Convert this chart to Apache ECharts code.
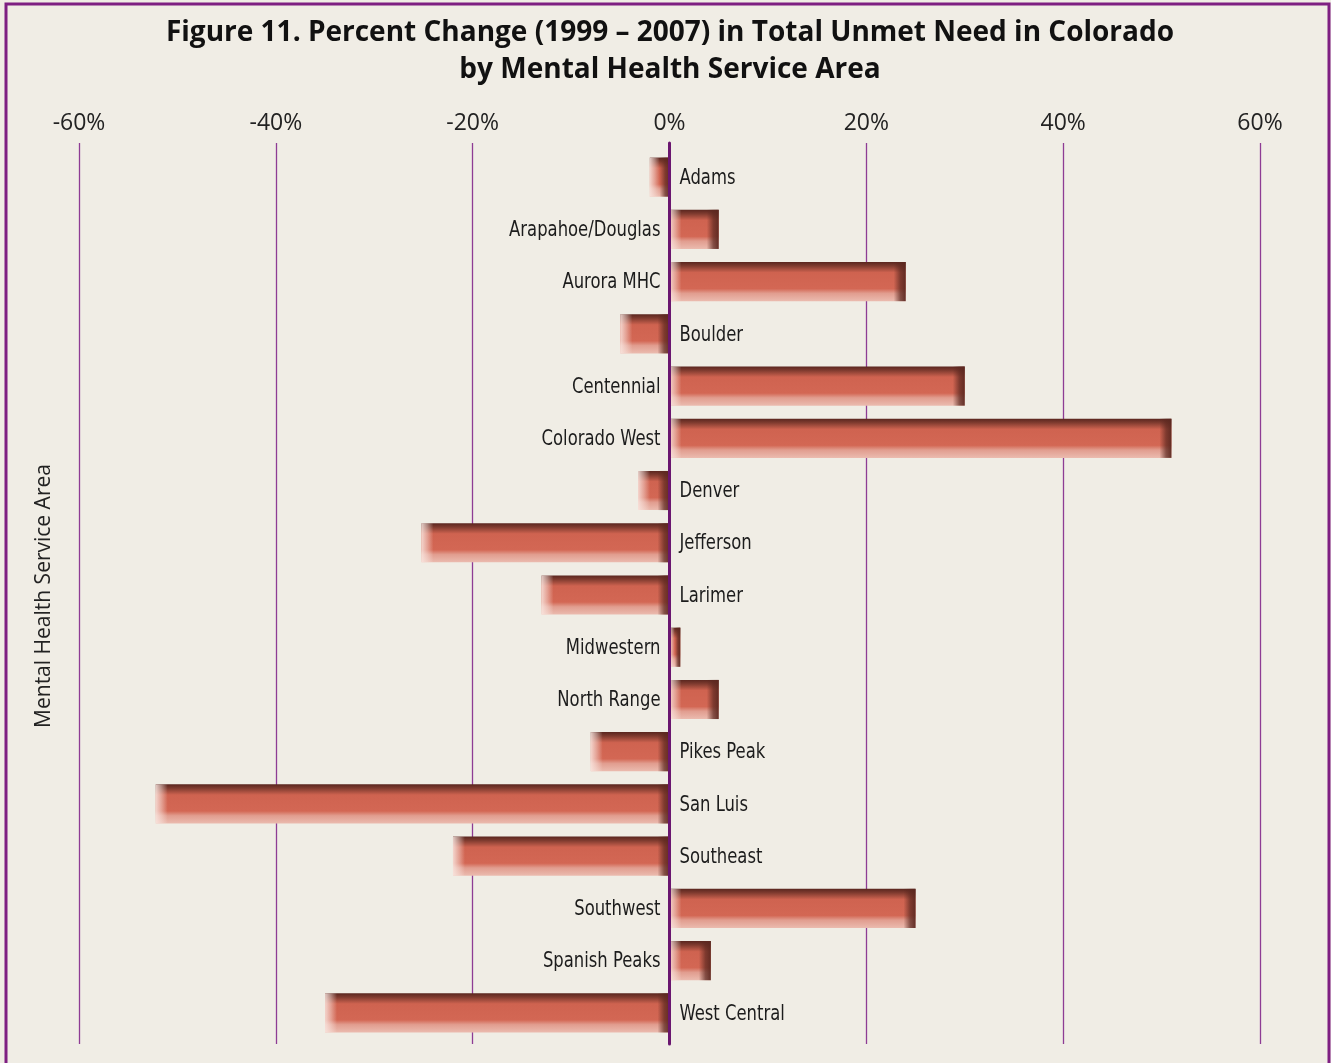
<!DOCTYPE html>
<html>
<head>
<meta charset="utf-8">
<script src="https://cdn.jsdelivr.net/npm/echarts@6/dist/echarts.min.js"></script>
<style>
  html, body { margin: 0; padding: 0; background: #f0ede5; }
  #chart { width: 1331px; height: 1063px; }
</style>
</head>
<body>
<div id="chart"></div>
<script>
// Mental health service areas, top to bottom
const categories = [
  'Adams', 'Arapahoe/Douglas', 'Aurora MHC', 'Boulder', 'Centennial',
  'Colorado West', 'Denver', 'Jefferson', 'Larimer', 'Midwestern',
  'North Range', 'Pikes Peak', 'San Luis', 'Southeast', 'Southwest',
  'Spanish Peaks', 'West Central'
];
// Percent change in total unmet need, 1999 to 2007
const pctChange = [
  -2.0, 5.0, 24.0, -5.0, 30.0,
  51.0, -3.2, -25.2, -13.0, 1.1,
  5.0, -8.0, -52.2, -22.0, 25.0,
  4.2, -35.0
];
// Percent axis range and step
const axisMin = -60, axisMax = 60, axisStep = 20;

const titleText = 'Figure 11. Percent Change (1999 \u2013 2007) in Total Unmet Need in Colorado\nby Mental Health Service Area';
const axisTitle = 'Mental Health Service Area';

// Area names are set in a narrow face: a regular face squeezed horizontally
const labelFont = '22px "DejaVu Sans Condensed", "Open Sans", sans-serif';
const labelSqueeze = 0.83;

// Each bar: a vertically shaded body, a light left edge and a dark right edge
function renderBar(params, api) {
  const idx = api.value(1);
  const v = api.value(0);
  const p0 = api.coord([0, idx]);
  const p1 = api.coord([v, idx]);
  const h = api.size([0, 1])[1] * 0.75;
  const xa = Math.min(p0[0], p1[0]);
  const xb = Math.max(p0[0], p1[0]);
  const w = xb - xa;
  const y = p0[1] - h / 2;
  const edge = Math.min(12, w / 2);
  const body = new echarts.graphic.LinearGradient(0, 0, 0, 1, [
    { offset: 0, color: '#5a261f' },
    { offset: 0.1, color: '#7f3b2f' },
    { offset: 0.27, color: '#cf6350' },
    { offset: 0.68, color: '#d36754' },
    { offset: 0.8, color: '#e19d8f' },
    { offset: 1, color: '#ebbbaf' }
  ]);
  const lightEdge = new echarts.graphic.LinearGradient(0, 0, 1, 0, [
    { offset: 0, color: 'rgba(250,232,226,0.85)' },
    { offset: 0.5, color: 'rgba(250,232,226,0.45)' },
    { offset: 1, color: 'rgba(250,232,226,0)' }
  ]);
  const darkEdge = new echarts.graphic.LinearGradient(0, 0, 1, 0, [
    { offset: 0, color: 'rgba(92,40,32,0)' },
    { offset: 0.55, color: 'rgba(92,40,32,0.7)' },
    { offset: 1, color: 'rgba(92,40,32,0.95)' }
  ]);
  const neg = v < 0;
  const tx = neg ? p0[0] + 10 : p0[0] - 9;
  return {
    type: 'group',
    children: [
      { type: 'rect', shape: { x: xa, y: y, width: w, height: h }, style: { fill: body } },
      { type: 'rect', shape: { x: xa, y: y, width: edge, height: h }, style: { fill: lightEdge } },
      { type: 'rect', shape: { x: xb - edge, y: y, width: edge, height: h }, style: { fill: darkEdge } },
      {
        type: 'text',
        x: tx,
        y: p0[1] + 1,
        scaleX: labelSqueeze,
        style: {
          text: categories[idx],
          x: 0,
          y: 0,
          align: neg ? 'left' : 'right',
          verticalAlign: 'middle',
          font: labelFont,
          fill: '#1c1c1c'
        }
      }
    ]
  };
}

const chart = echarts.init(document.getElementById('chart'));
chart.setOption({
  backgroundColor: '#f0ede5',
  animation: false,
  title: {
    text: titleText,
    left: 665,
    top: 10,
    textAlign: 'center',
    textStyle: {
      fontFamily: '"Open Sans", "Noto Sans", sans-serif',
      fontWeight: 'bold',
      fontSize: 28,
      lineHeight: 37,
      color: '#111'
    }
  },
  graphic: [
    {
      type: 'rect',
      shape: { x: 6, y: 4, width: 1323, height: 1090 },
      style: { fill: 'none', stroke: '#7e1f82', lineWidth: 3 },
      z: 100
    },
    {
      type: 'text',
      x: 44, y: 596,
      rotation: Math.PI / 2,
      style: {
        text: axisTitle,
        align: 'center',
        verticalAlign: 'middle',
        font: '21px "Open Sans", "Noto Sans", sans-serif',
        fill: '#222'
      }
    }
  ],
  grid: [
    { left: 79, right: 71, top: 143, bottom: 19 },
    { left: 79, right: 71, top: 151, height: 888 }
  ],
  xAxis: [
    {
      gridIndex: 0,
      type: 'value',
      position: 'top',
      min: axisMin, max: axisMax, interval: axisStep,
      axisLine: { show: false },
      axisTick: { show: false },
      axisLabel: {
        margin: 8,
        formatter: '{value}%',
        fontFamily: '"Open Sans", "Noto Sans", sans-serif',
        fontSize: 23,
        color: '#222'
      },
      splitLine: { lineStyle: { color: '#8e3c94', width: 1.3 } }
    },
    {
      gridIndex: 1,
      type: 'value',
      min: axisMin, max: axisMax, interval: axisStep,
      show: false
    }
  ],
  yAxis: [
    {
      gridIndex: 0,
      type: 'category',
      data: categories,
      inverse: true,
      axisLine: { onZero: true, lineStyle: { color: '#6a166f', width: 3 } },
      axisTick: { show: false },
      axisLabel: { show: false },
      splitLine: { show: false },
      z: 5
    },
    {
      gridIndex: 1,
      type: 'category',
      data: categories,
      inverse: true,
      show: false
    }
  ],
  series: [
    {
      type: 'custom',
      xAxisIndex: 1,
      yAxisIndex: 1,
      renderItem: renderBar,
      encode: { x: 0, y: 1 },
      data: pctChange.map((v, i) => [v, i]),
      z: 3
    }
  ]
});
</script>
</body>
</html>
